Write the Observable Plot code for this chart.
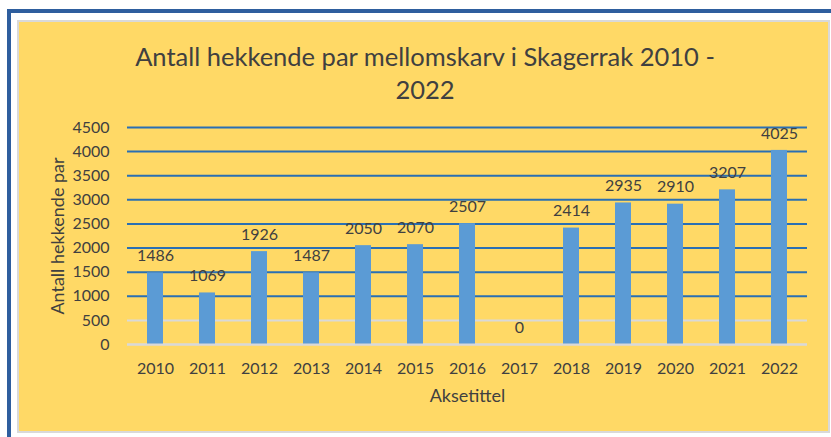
<!DOCTYPE html>
<html><head><meta charset="utf-8">
<script src="https://cdn.jsdelivr.net/npm/d3@7"></script>
<script src="https://cdn.jsdelivr.net/npm/@observablehq/plot@0.6"></script>
<style>
html,body{margin:0;padding:0;background:#fff;width:831px;height:437px;overflow:hidden;font-family:Lato,sans-serif;}
#frame{position:absolute;left:7px;top:9px;right:0;bottom:0;border-left:4px solid #2E5E9E;border-top:4px solid #2E5E9E;}
#panel{position:absolute;left:17px;top:20px;width:809px;height:409px;background:#FFD966;border:2px solid #D9D9D9;}
#title{position:absolute;left:0;width:850px;top:40px;text-align:center;font-size:25.5px;line-height:33px;color:#404040;}
#chart{position:absolute;left:0;top:0;}
</style></head>
<body>
<div id="frame"></div>
<div id="panel"></div>
<div id="chart"></div>
<div id="title">Antall hekkende par mellomskarv i Skagerrak 2010 -<br>2022</div>
<script>
const years = ["2010","2011","2012","2013","2014","2015","2016","2017","2018","2019","2020","2021","2022"];
const values = [1486,1069,1926,1487,2050,2070,2507,0,2414,2935,2910,3207,4025];
const yTicks = [0,500,1000,1500,2000,2500,3000,3500,4000,4500];
const xTitle = "Aksetittel";
const yTitle = "Antall hekkende par";

const data = years.map((y, i) => ({year: y, value: values[i]}));
const txt = "#404040";

const chart = Plot.plot({
  width: 831,
  height: 437,
  marginLeft: 127,
  marginRight: 24,
  marginTop: 127,
  marginBottom: 93,
  style: {background: "transparent", fontFamily: "Lato, sans-serif", fontSize: "16px", color: txt},
  x: {domain: years, paddingInner: 0.69, paddingOuter: 0.345, axis: null},
  y: {domain: [0, 4500], axis: null},
  marks: [
    Plot.ruleY(yTicks, {filter: d => d < 1000, stroke: "#D9D9D9", strokeWidth: 2}),
    Plot.ruleY(yTicks, {filter: d => d >= 1000, stroke: "#2A6FB3", strokeWidth: 2}),
    Plot.barY(data, {x: "year", y: "value", fill: "#5B9BD5"}),
    Plot.ruleY([0], {stroke: "#D9D9D9", strokeWidth: 2}),
    Plot.text(data, {x: "year", y: "value", text: d => String(d.value), dy: -17, lineAnchor: "middle", fill: txt, fontSize: 16}),
    Plot.axisY(yTicks, {tickSize: 0, tickPadding: 18, tickFormat: d => String(d), label: null, fontSize: 16, fill: txt}),
    Plot.axisX({tickSize: 0, tickPadding: 18, label: null, fontSize: 16, fill: txt}),
    Plot.text([xTitle], {frameAnchor: "bottom", dy: 52, lineAnchor: "middle", textAnchor: "middle", fontSize: 18, fill: txt}),
    Plot.text([yTitle], {frameAnchor: "left", dx: -69, rotate: -90, lineAnchor: "middle", textAnchor: "middle", fontSize: 18, fill: txt})
  ]
});
document.getElementById("chart").appendChild(chart);
</script>
</body></html>
